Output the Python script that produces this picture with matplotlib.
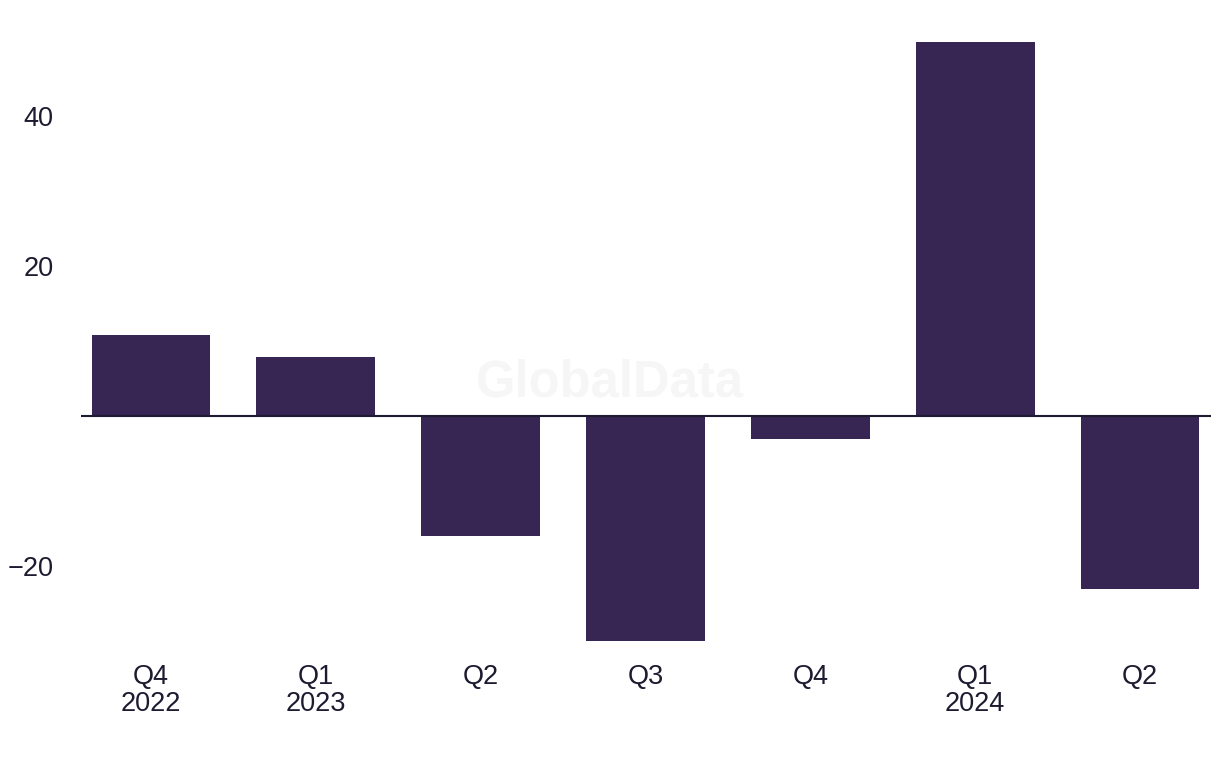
import matplotlib
matplotlib.use("Agg")
import matplotlib.pyplot as plt

categories = ["Q4\n2022", "Q1\n2023", "Q2", "Q3", "Q4", "Q1\n2024", "Q2"]
values = [10.8, 7.9, -16.0, -30.0, -3.1, 49.9, -23.1]
yticks = [-20, 20, 40]

bar_color = "#372554"
text_color = "#1c1b30"

plt.rcParams['font.family'] = ['Liberation Sans', 'DejaVu Sans']
plt.rcParams['axes.unicode_minus'] = True

fig = plt.figure(figsize=(12.2, 7.68), dpi=100)
ax = fig.add_axes([80.5/1220, 0.1556, 1130/1220, 0.8105])

x = list(range(len(categories)))
ax.bar(x, values, width=0.72, color=bar_color, zorder=2)
ax.axhline(0, color=text_color, lw=1.5, zorder=3)

ax.set_xlim(-0.427, 6.427)
ax.set_ylim(-31, 52)
ax.set_xticks(x)
ax.set_xticklabels(categories, fontsize=19.5, color=text_color, linespacing=1.05)
ax.set_yticks(yticks)
ax.set_yticklabels([f"{v}".replace("-", "\u2212") for v in yticks], fontsize=19.5, color=text_color)
ax.tick_params(axis='both', length=0)
ax.tick_params(axis='x', pad=11)
ax.tick_params(axis='y', pad=19.5)
for s in ax.spines.values():
    s.set_visible(False)

fig.text(610/1220, 1 - 383/768, "GlobalData", fontsize=36.5, fontweight='bold',
         color="#f6f6f6", ha='center', va='center', zorder=0)

fig.savefig("out.png", dpi=100)
